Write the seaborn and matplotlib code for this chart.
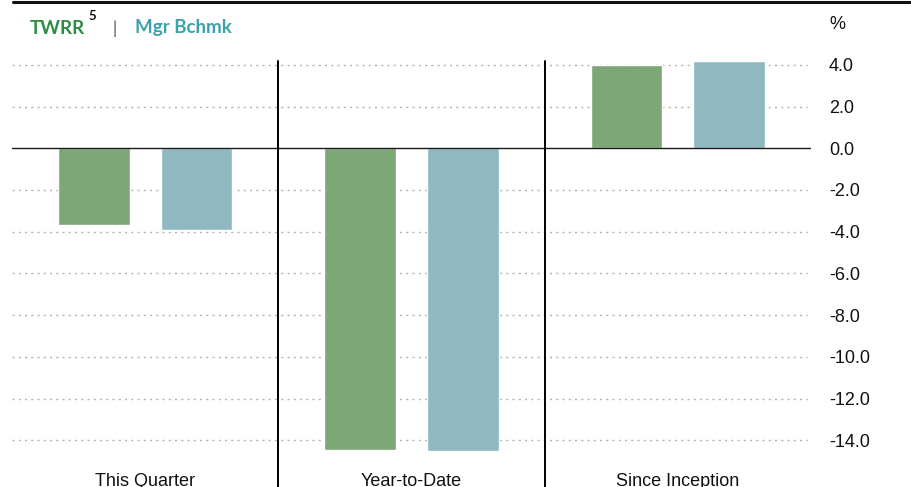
import matplotlib
matplotlib.use("Agg")
import matplotlib.pyplot as plt
import seaborn as sns
import pandas as pd
from matplotlib.lines import Line2D

categories = ["This Quarter", "Year-to-Date", "Since Inception"]
series_names = ["TWRR", "Mgr Bchmk"]
twrr = [-3.7, -14.45, 4.0]
bchmk = [-3.9, -14.5, 4.2]
yticks = [4.0, 2.0, 0.0, -2.0, -4.0, -6.0, -8.0, -10.0, -12.0, -14.0]
ytick_labels = ["4.0", "2.0", "0.0", "-2.0", "-4.0", "-6.0", "-8.0", "-10.0", "-12.0", "-14.0"]

bar_colors = ["#7DA776", "#8FB8C0"]
text_colors = ["#2E8B47", "#3AA3AA"]

df = pd.DataFrame({
    "Period": categories * 2,
    "Series": [series_names[0]] * 3 + [series_names[1]] * 3,
    "Return": twrr + bchmk,
})

sns.set_style("white")
plt.rcParams["font.family"] = ["Liberation Sans", "DejaVu Sans"]

W, H = 911, 487
fig = plt.figure(figsize=(W / 100, H / 100), dpi=100)
y_top_px, y_bot_px = 60.7, 456.9
ax = fig.add_axes([12 / W, 1 - y_bot_px / H, (811 - 12) / W, (y_bot_px - y_top_px) / H])

sns.barplot(data=df, x="Period", y="Return", hue="Series", order=categories,
            hue_order=series_names, palette=bar_colors, width=0.77, gap=0.3,
            saturation=1, legend=False, ax=ax, zorder=3, errorbar=None)

ax.set_xlim(-0.5, 2.5)
ax.set_ylim(-14.8, 4.2)

for s in ax.spines.values():
    s.set_visible(False)

# dotted gridlines
for v in yticks:
    if v != 0:
        ax.plot([0, 0.995], [v, v], transform=ax.get_yaxis_transform(),
                color="#B3B3AB", lw=1.0, ls=(0, (1.5, 3)), zorder=1)
ax.axhline(0, color="#1A1A1A", lw=1.0, zorder=4)

# group dividers
for xv in [0.5, 1.5]:
    ax.axvline(xv, ymin=-0.1, ymax=1.0, color="black", lw=1.4, clip_on=False, zorder=5)

ax.yaxis.tick_right()
ax.set_yticks(yticks)
ax.set_yticklabels(ytick_labels)
ax.tick_params(axis="y", length=0, pad=13, labelsize=13, labelcolor="#111111")
ax.tick_params(axis="x", length=0, pad=11.5, labelsize=13, labelcolor="#111111")
ax.set_xlabel("")
ax.set_ylabel("")
for lab in ax.get_yticklabels():
    lab.set_horizontalalignment("left")

# top rule
fig.add_artist(Line2D([13 / W, 1.0], [1 - 1.5 / H, 1 - 1.5 / H], color="#111111", lw=2.2))

# legend text
fig.text(30 / W, 1 - 28 / H, "TWRR", color=text_colors[0], fontsize=13.5,
         fontweight="bold", family=["Lato", "DejaVu Sans"], va="center", ha="left")
fig.text(88 / W, 1 - 16 / H, "5", color="#111111", fontsize=9.5,
         fontweight="bold", family=["Lato", "DejaVu Sans"], va="center", ha="left")
fig.text(113 / W, 1 - 29 / H, "|", color="#444444", fontsize=12,
         family=["Lato", "DejaVu Sans"], va="center", ha="left")
fig.text(135 / W, 1 - 28 / H, "Mgr Bchmk", color=text_colors[1], fontsize=13.5,
         fontweight="bold", family=["Lato", "DejaVu Sans"], va="center", ha="left")
fig.text(829 / W, 1 - 24.5 / H, "%", color="#111111", fontsize=13, va="center", ha="left")

fig.savefig("out.png", dpi=100)
